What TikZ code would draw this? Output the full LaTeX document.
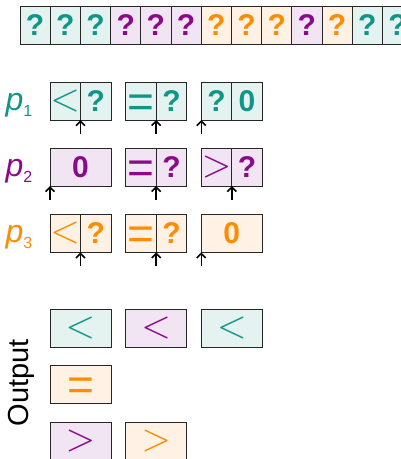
\documentclass[tikz,border=0pt]{standalone}
\usepackage{fontspec}
\setmainfont{Liberation Sans}
\setsansfont{Liberation Sans}
\usetikzlibrary{positioning, arrows.meta}

\definecolor{tealc}{RGB}{16,150,136}
\definecolor{tealf}{RGB}{228,243,240}
\definecolor{purc}{RGB}{139,10,139}
\definecolor{purf}{RGB}{241,228,243}
\definecolor{orac}{RGB}{255,140,0}
\definecolor{oraf}{RGB}{255,242,228}

\newcommand\qfont{\fontsize{30}{30}\selectfont\bfseries}
\newcommand\labfont{\fontsize{32}{32}\selectfont}
\newcommand\psub[1]{\raisebox{-6pt}{\fontsize{16}{16}\selectfont #1}}
\newcommand\lt{\scalebox{3.8}{$<$}}
\newcommand\gt{\scalebox{3.8}{$>$}}
\newcommand\eqs{\raisebox{-16pt}[0pt][0pt]{\fontsize{46}{46}\selectfont =}}

\begin{document}
\begin{tikzpicture}[
    x=1pt, y=-1pt,
    font=\sffamily,
    cell/.style={rectangle, draw=black!85, line width=0.8pt, minimum width=30.5pt, minimum height=38pt, inner sep=0pt, outer sep=0pt},
    seq/.style={minimum width=30.2pt},
    wide/.style={minimum width=61pt},
    tcell/.style={cell, fill=tealf, text=tealc},
    pcell/.style={cell, fill=purf, text=purc},
    ocell/.style={cell, fill=oraf, text=orac},
    qm/.style={font=\qfont},
    ptr/.style={-{Straight Barb[length=4.5pt, width=9pt]}, line width=1.6pt}
]
\useasboundingbox (0,0) rectangle (401,459);

% sequence
\node[tcell, qm, seq] (s1) at (35.1,25) {?};
\node[tcell, qm, seq, right=0pt of s1] (s2) {?};
\node[tcell, qm, seq, right=0pt of s2] (s3) {?};
\node[pcell, qm, seq, right=0pt of s3] (s4) {?};
\node[pcell, qm, seq, right=0pt of s4] (s5) {?};
\node[pcell, qm, seq, right=0pt of s5] (s6) {?};
\node[ocell, qm, seq, right=0pt of s6] (s7) {?};
\node[ocell, qm, seq, right=0pt of s7] (s8) {?};
\node[ocell, qm, seq, right=0pt of s8] (s9) {?};
\node[pcell, qm, seq, right=0pt of s9] (s10) {?};
\node[ocell, qm, seq, right=0pt of s10] (s11) {?};
\node[tcell, qm, seq, right=0pt of s11] (s12) {?};
\node[tcell, qm, seq, right=0pt of s12] (s13) {?};

% p1
\node[text=tealc, font=\labfont] (l1) at (19,105) {\textit{p}\psub{1}};
\node[tcell] (p1a) at (65.25,101) {\lt};
\node[tcell, qm, right=0pt of p1a] (p1b) {?};
\node[tcell] (p1c) at (140.95,101) {\eqs};
\node[tcell, qm, right=0pt of p1c] (p1d) {?};
\node[tcell, qm] (p1e) at (216.55,101) {?};
\node[tcell, qm, right=0pt of p1e] (p1f) {0};
\coordinate (a1) at ([yshift=-14pt]p1a.south east);
\coordinate (a2) at ([yshift=-14pt]p1c.south east);
\coordinate (a3) at ([yshift=-14pt]p1e.south west);
\draw[ptr] (a1) -- (p1a.south east);
\draw[ptr] (a2) -- (p1c.south east);
\draw[ptr] (a3) -- (p1e.south west);

% p2
\node[text=purc, font=\labfont] (l2) at (19,171) {\textit{p}\psub{2}};
\node[pcell, qm, wide] (p2a) at (80.5,167) {0};
\node[pcell] (p2c) at (140.95,167) {\eqs};
\node[pcell, qm, right=0pt of p2c] (p2d) {?};
\node[pcell] (p2e) at (216.55,167) {\gt};
\node[pcell, qm, right=0pt of p2e] (p2f) {?};
\coordinate (b1) at ([yshift=-14pt]p2a.south west);
\coordinate (b2) at ([yshift=-14pt]p2c.south east);
\coordinate (b3) at ([yshift=-14pt]p2e.south east);
\draw[ptr] (b1) -- (p2a.south west);
\draw[ptr] (b2) -- (p2c.south east);
\draw[ptr] (b3) -- (p2e.south east);

% p3
\node[text=orac, font=\labfont] (l3) at (19,237) {\textit{p}\psub{3}};
\node[ocell] (p3a) at (65.25,233.3) {\lt};
\node[ocell, qm, right=0pt of p3a] (p3b) {?};
\node[ocell] (p3c) at (140.95,233.3) {\eqs};
\node[ocell, qm, right=0pt of p3c] (p3d) {?};
\node[ocell, qm, wide] (p3e) at (231.8,233.3) {0};
\coordinate (c1) at ([yshift=-14pt]p3a.south east);
\coordinate (c2) at ([yshift=-14pt]p3c.south east);
\coordinate (c3) at ([yshift=-14pt]p3e.south west);
\draw[ptr] (c1) -- (p3a.south east);
\draw[ptr] (c2) -- (p3c.south east);
\draw[ptr] (c3) -- (p3e.south west);

% output
\node[rotate=90, font=\fontsize{29}{29}\selectfont] (outlbl) at (21,383) {Output};
\node[tcell, wide] (o1) at (80.5,328) {\lt};
\node[pcell, wide] (o2) at (156.2,328) {\lt};
\node[tcell, wide] (o3) at (231.8,328) {\lt};
\node[ocell, wide] (o4) at (80.5,384.5) {\eqs};
\node[pcell, wide] (o5) at (80.5,441) {\gt};
\node[ocell, wide] (o6) at (156.2,441) {\gt};
\end{tikzpicture}
\end{document}
